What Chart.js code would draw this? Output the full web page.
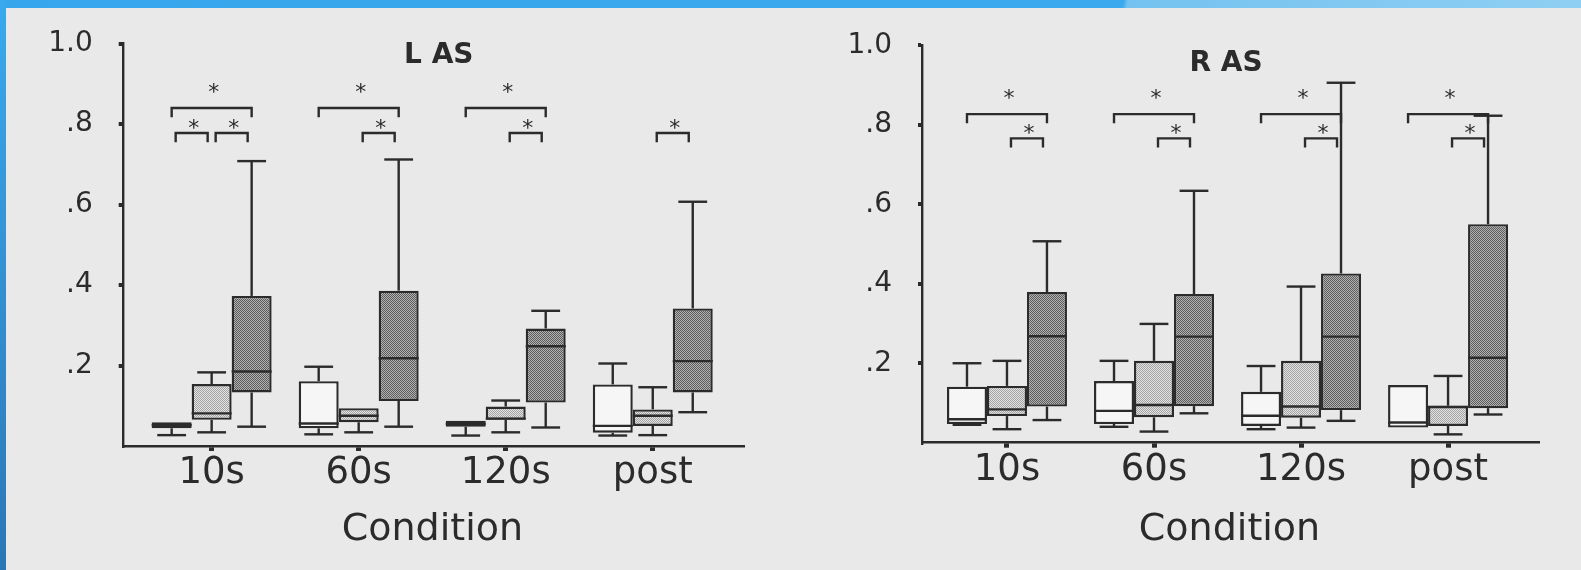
<!DOCTYPE html>
<html>
<head>
<meta charset="utf-8">
<script src="https://cdn.jsdelivr.net/npm/chart.js@4.4.1/dist/chart.umd.min.js"></script>
<style>
  html, body { margin: 0; padding: 0; }
  body { width: 1581px; height: 570px; position: relative; overflow: hidden; background: #e9e9e9; }
  canvas { position: absolute; top: 0; }
  #las { left: 0; }
  #ras { left: 790px; }
  #frameTop { position: absolute; left: 0; top: 0; width: 1581px; height: 8px;
    background: linear-gradient(100deg, #38a6ec 0, #3aa9ee 71%, #74c2f0 71.3%, #8fcff3 100%); }
  #frameLeft { position: absolute; left: 0; top: 0; width: 6px; height: 570px;
    background: linear-gradient(#3aa9ee, #2b77b6); }
</style>
</head>
<body>
<canvas id="las" width="790" height="570"></canvas>
<canvas id="ras" width="791" height="570"></canvas>
<div id="frameTop"></div>
<div id="frameLeft"></div>
<script>
const categories = ['10s', '60s', '120s', 'post'];
const groups = ['white', 'light', 'dark'];
const yTicks = [0, 0.2, 0.4, 0.6, 0.8, 1.0];
const yTickLabels = ['', '.2', '.4', '.6', '.8', '1.0'];

// L AS - one row per group (white, light, dark), one column per condition
const lasMin = [[0.027, 0.029, 0.026, 0.026], [0.034, 0.034, 0.034, 0.027], [0.048, 0.048, 0.046, 0.084]];
const lasQ1  = [[0.044, 0.044, 0.048, 0.033], [0.065, 0.059, 0.065, 0.050], [0.133, 0.112, 0.108, 0.133]];
const lasMed = [[0.052, 0.056, 0.055, 0.050], [0.081, 0.075, 0.068, 0.075], [0.185, 0.218, 0.248, 0.211]];
const lasQ3  = [[0.059, 0.161, 0.063, 0.153], [0.154, 0.094, 0.098, 0.091], [0.373, 0.386, 0.292, 0.342]];
const lasMax = [[0.059, 0.197, 0.063, 0.205], [0.183, 0.094, 0.113, 0.146], [0.708, 0.712, 0.336, 0.607]];
// significance brackets: [condition, group a, group b, level]  (level 1 = upper)
const lasSig = [[0, 0, 2, 1], [0, 0, 1, 0], [0, 1, 2, 0], [1, 0, 2, 1], [1, 1, 2, 0],
                [2, 0, 2, 1], [2, 1, 2, 0], [3, 1, 2, 0]];

// R AS
const rasMin = [[0.045, 0.040, 0.034, 0.038], [0.034, 0.028, 0.038, 0.021], [0.057, 0.074, 0.055, 0.071]];
const rasQ1  = [[0.047, 0.047, 0.042, 0.038], [0.067, 0.064, 0.063, 0.042], [0.091, 0.092, 0.082, 0.087]];
const rasMed = [[0.059, 0.080, 0.068, 0.051], [0.084, 0.095, 0.091, 0.090], [0.268, 0.267, 0.267, 0.214]];
const rasQ3  = [[0.141, 0.155, 0.128, 0.145], [0.143, 0.206, 0.206, 0.093], [0.379, 0.374, 0.426, 0.550]];
const rasMax = [[0.200, 0.206, 0.193, 0.145], [0.206, 0.299, 0.393, 0.168], [0.507, 0.634, 0.906, 0.823]];
const rasSig = [[0, 0, 2, 1], [0, 1, 2, 0], [1, 0, 2, 1], [1, 1, 2, 0],
                [2, 0, 2, 1], [2, 1, 2, 0], [3, 0, 2, 1], [3, 1, 2, 0]];

const ink = '#2b2b2b';
Chart.defaults.font.family = '"DejaVu Sans", Verdana, sans-serif';
Chart.defaults.color = ink;

// halftone-ish fills like the printed figure
function dotPattern(a, b) {
  const c = document.createElement('canvas');
  c.width = 2; c.height = 2;
  const g = c.getContext('2d');
  g.fillStyle = a; g.fillRect(0, 0, 2, 2);
  g.fillStyle = b; g.fillRect(0, 0, 1, 1); g.fillRect(1, 1, 1, 1);
  return g.createPattern(c, 'repeat');
}
const fills = ['#f6f6f6', dotPattern('#e4e4e4', '#a2a2a2'), dotPattern('#b2b2b2', '#5c5c5c')];

function extras(p) {
  return {
    id: 'extras',
    afterDatasetsDraw(chart) {
      const ctx = chart.ctx, y = chart.scales.y, x = chart.scales.x;
      ctx.save();
      ctx.strokeStyle = ink;
      ctx.lineWidth = 2.4;
      const line = (x1, y1, x2, y2) => { ctx.beginPath(); ctx.moveTo(x1, y1); ctx.lineTo(x2, y2); ctx.stroke(); };

      // whiskers + medians
      groups.forEach((g, gi) => {
        chart.getDatasetMeta(gi).data.forEach((bar, ci) => {
          const cx = bar.x, half = bar.width / 2, cap = bar.width * 0.36;
          const pMin = y.getPixelForValue(p.min[gi][ci]);
          const pQ1 = y.getPixelForValue(p.q1[gi][ci]);
          const pMed = y.getPixelForValue(p.med[gi][ci]);
          const pQ3 = y.getPixelForValue(p.q3[gi][ci]);
          const pMax = y.getPixelForValue(p.max[gi][ci]);
          if (p.max[gi][ci] > p.q3[gi][ci]) { line(cx, pQ3, cx, pMax); line(cx - cap, pMax, cx + cap, pMax); }
          if (p.min[gi][ci] < p.q1[gi][ci]) { line(cx, pQ1, cx, pMin); line(cx - cap, pMin, cx + cap, pMin); }
          line(cx - half, pMed, cx + half, pMed);
        });
      });

      // significance brackets
      ctx.fillStyle = ink;
      ctx.font = '22px "DejaVu Sans"';
      ctx.textAlign = 'center';
      ctx.textBaseline = 'middle';
      p.sig.forEach(([ci, a, b, lvl]) => {
        const inset = lvl ? 0 : 4;
        const xa = chart.getDatasetMeta(a).data[ci].x + inset;
        const xb = chart.getDatasetMeta(b).data[ci].x - inset;
        const yl = y.getPixelForValue(p.bracketY[lvl]);
        const yt = y.getPixelForValue(p.bracketY[lvl] - 0.023);
        ctx.beginPath();
        ctx.moveTo(xa, yt); ctx.lineTo(xa, yl); ctx.lineTo(xb, yl); ctx.lineTo(xb, yt);
        ctx.stroke();
        ctx.fillText('*', (xa + xb) / 2 + 2, y.getPixelForValue(p.starY[lvl]) + 4);
      });

      // panel title
      ctx.font = 'bold 28px "DejaVu Sans"';
      ctx.fillText(p.title, x.getPixelForValue(p.titleX), y.getPixelForValue(p.titleY));
      ctx.restore();
    }
  };
}

function makePanel(id, p) {
  new Chart(document.getElementById(id), {
    type: 'bar',
    data: {
      datasets: groups.map((g, gi) => ({
        label: g,
        data: categories.map((c, ci) => ({ x: ci, y: [p.q1[gi][ci], p.q3[gi][ci]] })),
        backgroundColor: fills[gi],
        borderColor: ink,
        borderWidth: 2.4,
        borderSkipped: false,
        categoryPercentage: 0.816,
        barPercentage: 1
      }))
    },
    options: {
      responsive: false,
      animation: false,
      layout: { padding: { top: p.top, right: p.right, left: 0, bottom: 0 } },
      plugins: { legend: { display: false }, tooltip: { enabled: false } },
      scales: {
        x: {
          type: 'linear',
          offset: false,
          min: p.xMin,
          max: p.xMax,
          afterBuildTicks: s => { s.ticks = categories.map((c, i) => ({ value: i })); },
          afterFit: s => { s.height = 570 - p.bottom; },
          ticks: { callback: v => categories[v], font: { size: 37 }, padding: 0, color: ink, maxRotation: 0 },
          grid: { display: true, offset: false, drawOnChartArea: false, drawTicks: true, tickLength: 5, lineWidth: 5, color: ink },
          border: { display: true, color: ink, width: 2.4 },
          title: { display: true, text: 'Condition', font: { size: 38 }, color: ink, padding: { top: 0, bottom: 17 } }
        },
        y: {
          min: 0,
          max: 1,
          afterBuildTicks: s => { s.ticks = yTicks.map(v => ({ value: v })); },
          afterFit: s => { s.width = p.left; },
          ticks: { callback: (v, i) => yTickLabels[i], font: { size: 28 }, padding: 26, color: ink },
          grid: {
            display: true, drawOnChartArea: false, drawTicks: true, tickLength: 4, lineWidth: 4,
            color: c => (c.tick && c.tick.value === 0 ? 'rgba(0,0,0,0)' : ink)
          },
          border: { display: true, color: ink, width: 2.4 }
        }
      }
    },
    plugins: [extras(p)]
  });
}

makePanel('las', {
  min: lasMin, q1: lasQ1, med: lasMed, q3: lasQ3, max: lasMax, sig: lasSig,
  title: 'L AS', titleX: 1.545, titleY: 0.969,
  bracketY: [0.778, 0.840], starY: [0.797, 0.886],
  left: 122.7, top: 43.6, bottom: 446, right: 48, xMin: -0.605, xMax: 3.607
});
makePanel('ras', {
  min: rasMin, q1: rasQ1, med: rasMed, q3: rasQ3, max: rasMax, sig: rasSig,
  title: 'R AS', titleX: 1.49, titleY: 0.954,
  bracketY: [0.766, 0.827], starY: [0.787, 0.875],
  left: 132, top: 45.4, bottom: 442.7, right: 44, xMin: -0.578, xMax: 3.605
});
</script>
</body>
</html>
